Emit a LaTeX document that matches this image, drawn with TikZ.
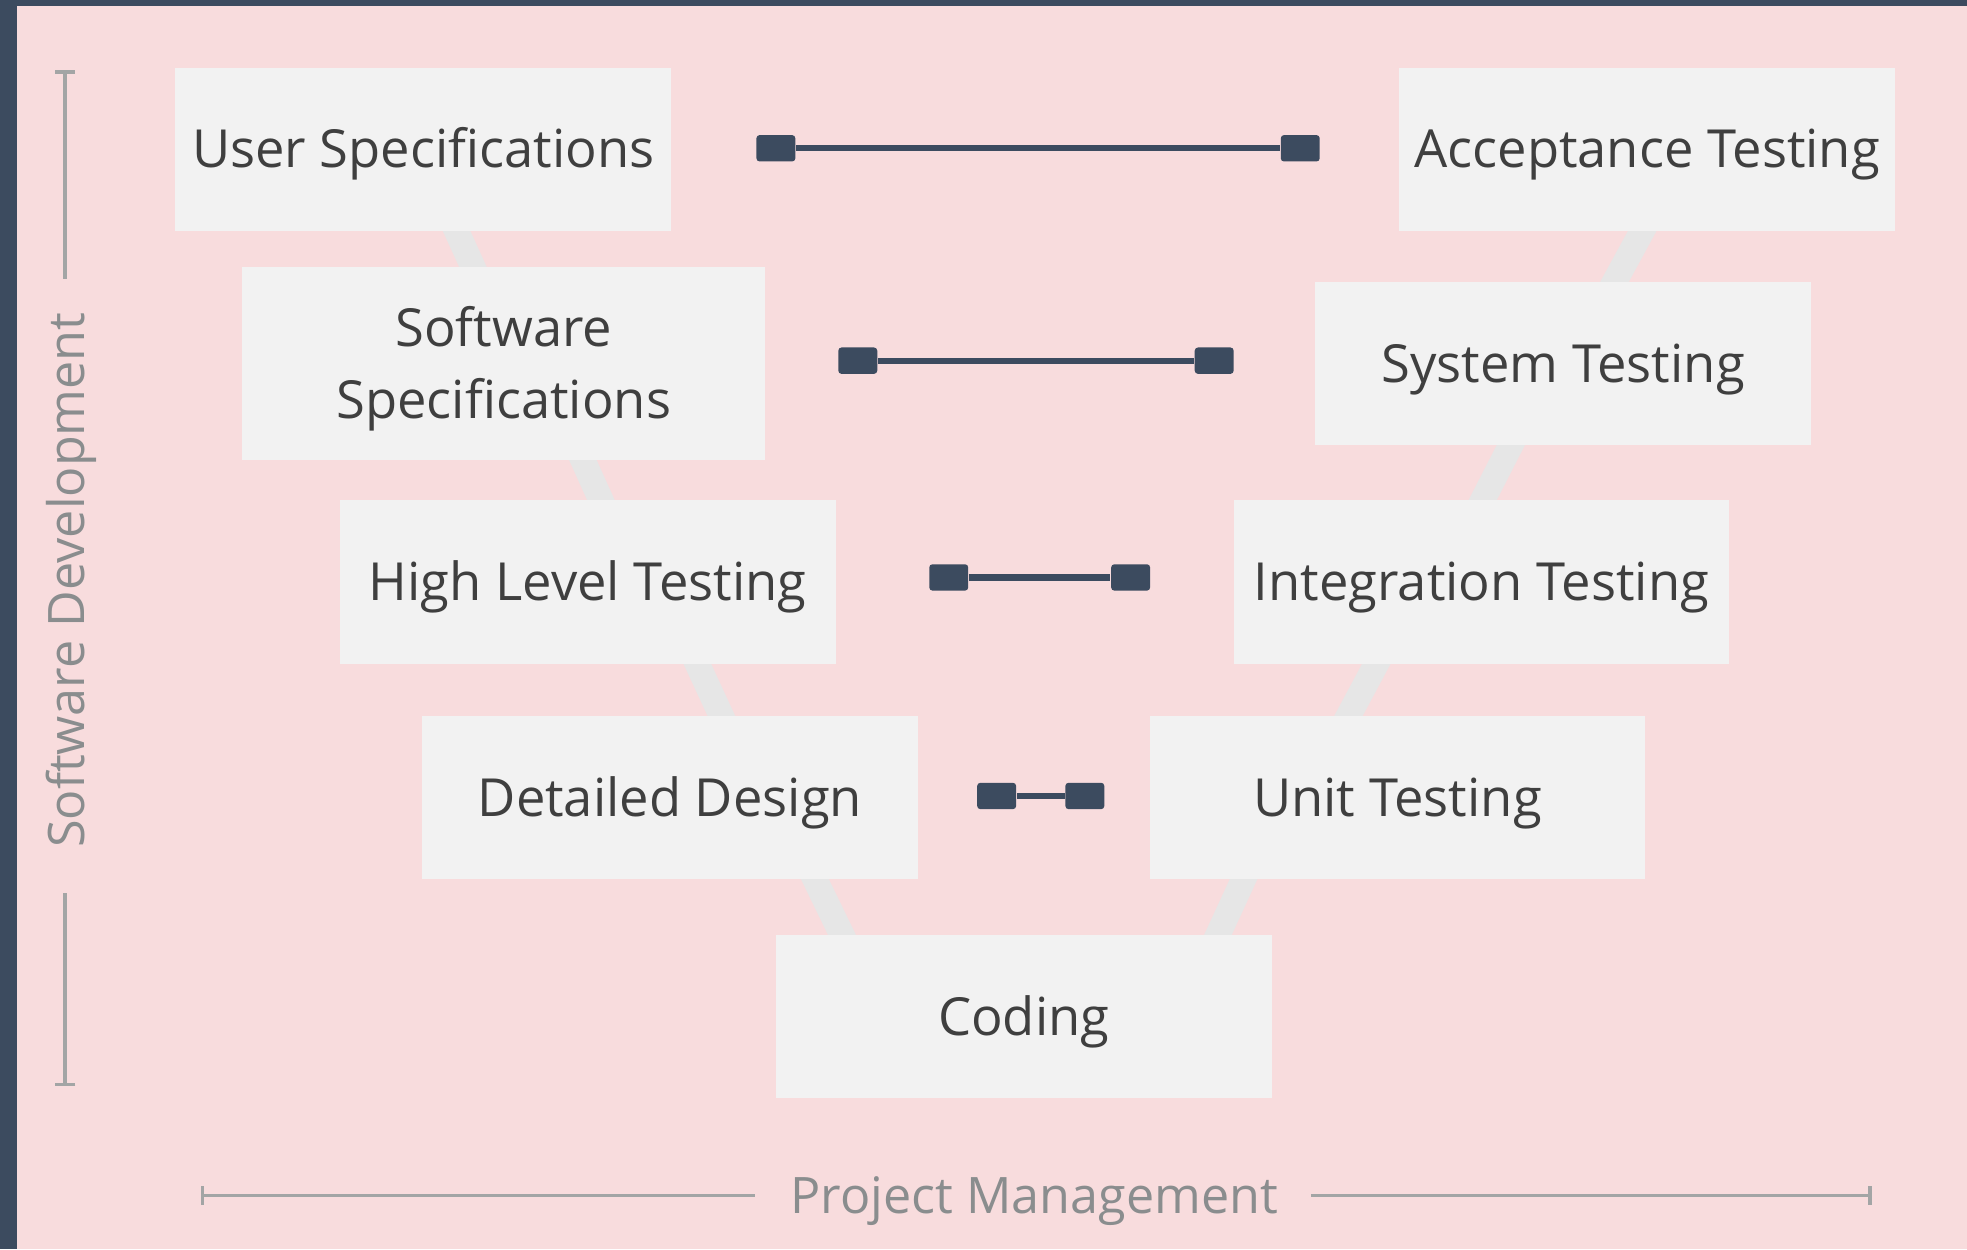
\documentclass[tikz,border=0pt]{standalone}
\usepackage{fontspec}
\setmainfont{Open Sans}
\usetikzlibrary{backgrounds,calc,arrows.meta}
\definecolor{frame}{HTML}{3C4B5F}
\definecolor{pinkbg}{HTML}{F8DCDD}
\definecolor{boxfill}{HTML}{F2F2F2}
\definecolor{stripc}{HTML}{E6E6E6}
\definecolor{txt}{HTML}{3F3F3F}
\definecolor{axisc}{HTML}{A3A5A5}
\definecolor{axistxt}{HTML}{8A8D8E}
\begin{document}
\begin{tikzpicture}[x=0.01cm,y=-0.01cm,
  stage/.style={fill=boxfill, text=txt, minimum width=3.95cm, minimum height=1.30cm,
    inner sep=0pt, font=\fontsize{11.9}{16.2}\selectfont, align=center,
    text height=11.3pt, text depth=2.86pt},
  strip/.style={draw=stripc, line width=0.2cm},
  sq/.style={fill=frame, minimum width=0.31cm, minimum height=0.21cm, inner sep=0pt,
    rounded corners=0.025cm},
  link/.style={draw=frame, line width=0.05cm},
  axisline/.style={draw=axisc, line width=0.03cm},
  axislabel/.style={text=axistxt, font=\fontsize{11.4}{14}\selectfont, inner sep=0pt}]
\useasboundingbox (0,0) rectangle (1568,996);
\begin{scope}[on background layer]
  \fill[frame] (0,0) rectangle (1568,996);
  \fill[pinkbg] (13.3,4.8) rectangle (1568,996);
\end{scope}

% stages
\node[stage] (us) at (337.5,119) {User Specifications};
\node[stage, minimum width=4.17cm, minimum height=1.54cm, text height=27.52pt] (ss) at (401.5,290) {Software\\Specifications};
\node[stage] (hlt) at (468.5,464) {High Level Testing};
\node[stage] (dd) at (534,636) {Detailed Design};
\node[stage] (cod) at (816,810.5) {Coding};
\node[stage] (ut) at (1114,636) {Unit Testing};
\node[stage] (it) at (1181,464) {Integration Testing};
\node[stage] (st) at (1246,290) {System Testing};
\node[stage] (at) at (1313,119) {Acceptance Testing};

% V strips
\begin{scope}[on background layer]
  \draw[strip] ($(us.south)+(22.2,-10)$) -- ($(ss.north)+(-20.2,10)$);
  \draw[strip] ($(ss.south)+(59.1,-10)$) -- ($(hlt.north)+(14.9,10)$);
  \draw[strip] ($(hlt.south)+(83,-10)$) -- ($(dd.north)+(45.5,10)$);
  \draw[strip] ($(dd.south)+(111.2,-10)$) -- ($(cod.north)+(-140.2,10)$);
  \draw[strip] ($(at.south)+(1.2,-10)$) -- ($(st.north)+(35.8,10)$);
  \draw[strip] ($(st.south)+(-37,-10)$) -- ($(it.north)+(-4,10)$);
  \draw[strip] ($(it.south)+(-78.8,-10)$) -- ($(ut.north)+(-44.2,10)$);
  \draw[strip] ($(ut.south)+(-118.5,-10)$) -- ($(cod.north)+(150.5,10)$);
\end{scope}

% verification links
\node[sq] (c1l) at (618.5,118.2) {};
\node[sq] (c1r) at (1036.5,118.2) {};
\node[sq] (c2l) at (683.8,287.5) {};
\node[sq] (c2r) at (967.9,287.5) {};
\node[sq] (c3l) at (756.3,460.3) {};
\node[sq] (c3r) at (901.3,460.3) {};
\node[sq] (c4l) at (794.5,634.5) {};
\node[sq] (c4r) at (864.8,634.5) {};
\draw[link, line width=0.045cm] (c1l) -- (c1r);
\draw[link] (c2l) -- (c2r);
\draw[link] (c3l) -- (c3r);
\draw[link] (c4l) -- (c4r);

% axes
\node[axislabel, rotate=90, anchor=base] (sd) at (67,462.5) {Software Development};
\coordinate (sdA) at (52,56);
\coordinate (sdB) at (52,222);
\coordinate (sdC) at (52,712);
\coordinate (sdD) at (52,866);
\draw[axisline, {Bar[width=0.16cm]}-] (sdA) -- (sdB);
\draw[axisline, -{Bar[width=0.16cm]}] (sdC) -- (sdD);

\node[axislabel, anchor=base] (pm) at (824.5,967) {Project Management};
\coordinate (pmA) at (160,953);
\coordinate (pmB) at (602,953);
\coordinate (pmC) at (1045,953);
\coordinate (pmD) at (1492,953);
\draw[axisline, {Bar[width=0.15cm]}-] (pmA) -- (pmB);
\draw[axisline, -{Bar[width=0.15cm]}] (pmC) -- (pmD);
\end{tikzpicture}
\end{document}
